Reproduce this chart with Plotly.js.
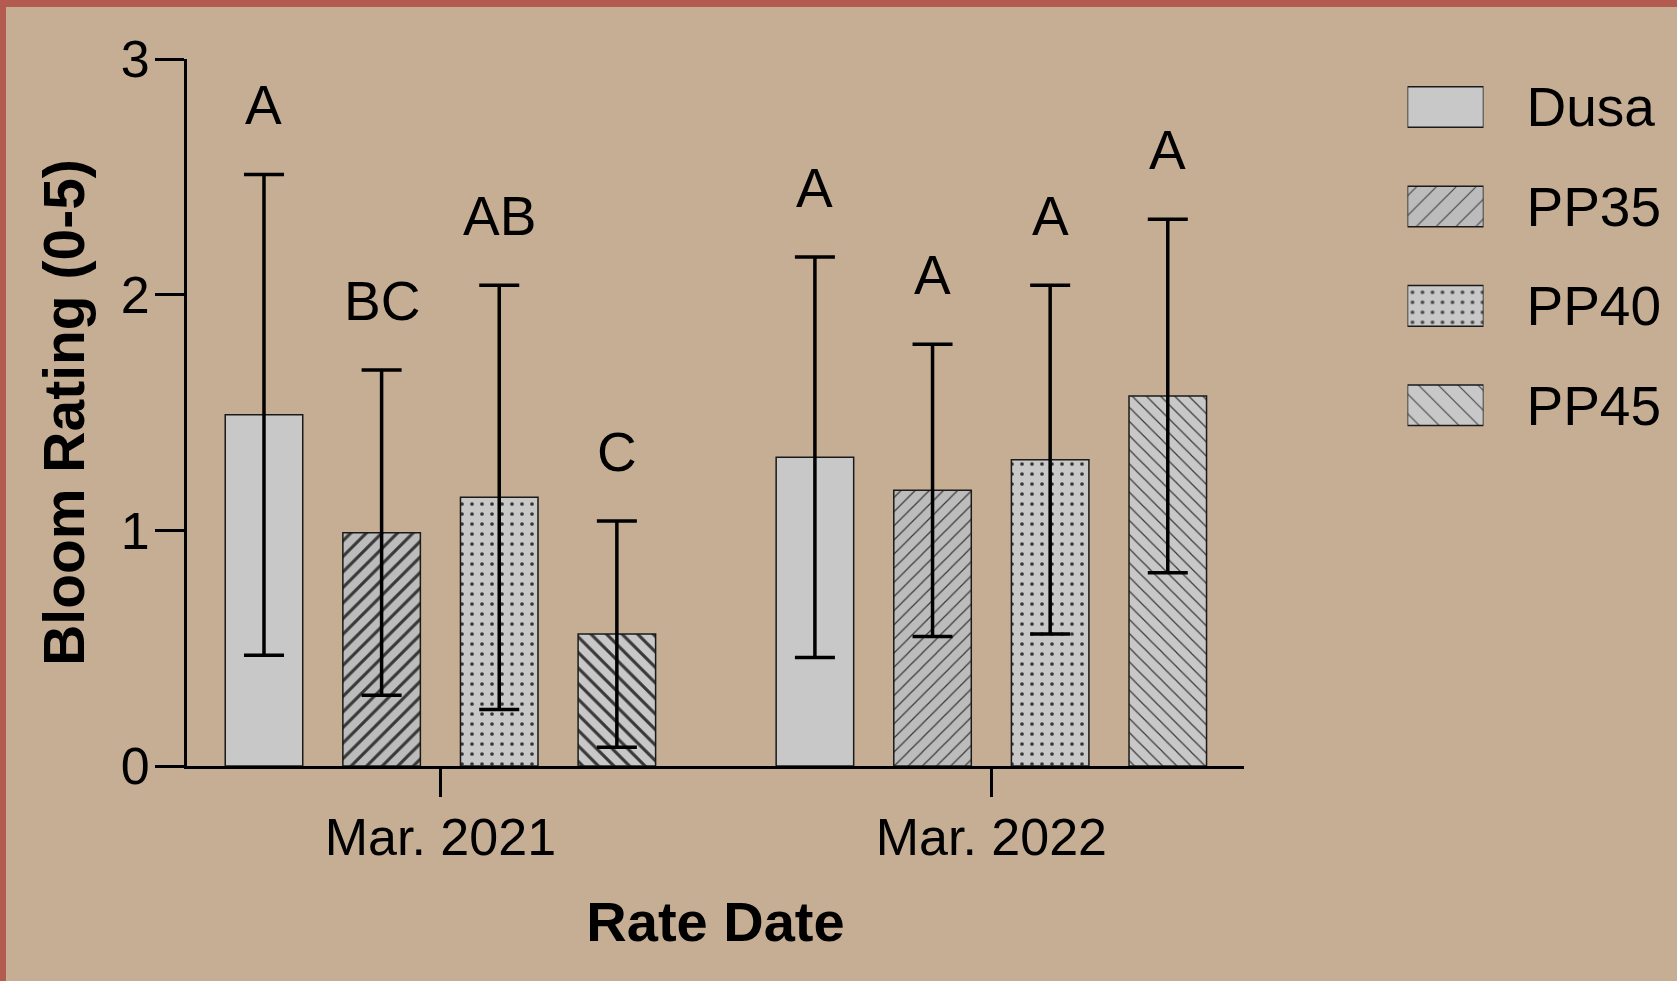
<!DOCTYPE html>
<html>
<head>
<meta charset="utf-8">
<script src="https://cdn.plot.ly/plotly-3.0.1.min.js"></script>
<style>
  html, body { margin: 0; padding: 0; background: #c6ae94; overflow: hidden; }
  #chart { width: 1677px; height: 981px; }
  .edge { position: absolute; left: 0; top: 0; background: #b35b4e; }
  #edge-top { width: 1677px; height: 7px; }
  #edge-left { width: 6px; height: 981px; }
</style>
</head>
<body>
<div id="chart"></div>
<div class="edge" id="edge-top"></div>
<div class="edge" id="edge-left"></div>
<script>
// Rating dates (x categories) and cultivars (series)
const dates = ['Mar. 2021', 'Mar. 2022'];
const series = ['Dusa', 'PP35', 'PP40', 'PP45'];

// Mean bloom rating and standard deviation per date
const dusaMean = [1.49, 1.31];
const dusaSD   = [1.02, 0.85];
const pp35Mean = [0.99, 1.17];
const pp35SD   = [0.69, 0.62];
const pp40Mean = [1.14, 1.30];
const pp40SD   = [0.90, 0.74];
const pp45Mean = [0.56, 1.57];
const pp45SD   = [0.48, 0.75];

// Mean separation letters per date
const dusaLetters = ['A', 'A'];
const pp35Letters = ['BC', 'A'];
const pp40Letters = ['AB', 'A'];
const pp45Letters = ['C', 'A'];

const means   = [dusaMean, pp35Mean, pp40Mean, pp45Mean];
const sds     = [dusaSD, pp35SD, pp40SD, pp45SD];
const letters = [dusaLetters, pp35Letters, pp40Letters, pp45Letters];

// Fill styles: one per cultivar, with per-date hatch weight
const FONT = 'Liberation Sans, Arial, Helvetica, sans-serif';
const styles = [
  { bg: '#c8c8c8', shape: ['', ''],     size: [8, 8],   solidity: [0.2, 0.2] },
  { bg: '#bcbcbc', shape: ['/', '/'],   size: [11, 10], solidity: [0.28, 0.12] },
  { bg: '#c8c8c8', shape: ['.', '.'],   size: [10, 10], solidity: [0.11, 0.11] },
  { bg: '#c8c8c8', shape: ['\\', '\\'], size: [11, 10], solidity: [0.28, 0.12] }
];
const legendPattern = { shape: ['', '/', '.', '\\'], size: [8, 14, 10, 14], solidity: [0.2, 0.08, 0.11, 0.08] };

const BARGAP = 0.146, BARGROUPGAP = 0.341;
const slot = (1 - BARGAP) / series.length;

const traces = series.map((name, s) => ({
  type: 'bar',
  name: name,
  x: dates,
  y: means[s],
  xaxis: 'x', yaxis: 'y',
  showlegend: false,
  marker: {
    color: styles[s].bg,
    line: { color: '#1a1a1a', width: 1.5 },
    pattern: {
      shape: styles[s].shape,
      size: styles[s].size,
      solidity: styles[s].solidity,
      fgcolor: '#383838',
      fgopacity: 1,
      fillmode: 'overlay'
    }
  },
  error_y: {
    type: 'data', array: sds[s], visible: true,
    color: '#000000', thickness: 3.5, width: 20
  },
  hoverinfo: 'skip'
}));

// Legend swatches drawn as a small horizontal bar panel
traces.push({
  type: 'bar',
  orientation: 'h',
  y: series,
  x: series.map(() => 1),
  width: 0.408,
  xaxis: 'x2', yaxis: 'y2',
  showlegend: false,
  marker: {
    color: styles.map(st => st.bg),
    line: { color: '#1a1a1a', width: 1.5 },
    pattern: {
      shape: legendPattern.shape,
      size: legendPattern.size,
      solidity: legendPattern.solidity,
      fgcolor: '#383838',
      fgopacity: 1,
      fillmode: 'overlay'
    }
  },
  hoverinfo: 'skip'
});

// Letter labels above each error bar
const annotations = [];
series.forEach((name, s) => {
  dates.forEach((d, g) => {
    annotations.push({
      x: g + (s - (series.length - 1) / 2) * slot,
      y: means[s][g] + sds[s][g],
      xref: 'x', yref: 'y',
      text: letters[s][g],
      showarrow: false,
      yanchor: 'bottom',
      yshift: 36,
      font: { family: FONT, size: 55, color: '#000000' }
    });
  });
});

const layout = {
  width: 1677, height: 981,
  paper_bgcolor: '#c6ae94',
  plot_bgcolor: 'rgba(0,0,0,0)',
  margin: { l: 187, r: 10, t: 50, b: 215 },
  barmode: 'group',
  bargap: BARGAP,
  bargroupgap: BARGROUPGAP,
  showlegend: false,
  font: { family: FONT, color: '#000000' },
  xaxis: {
    domain: [0, 0.71419],
    anchor: 'y',
    type: 'category',
    range: [-0.46, 1.4586],
    showline: true, linecolor: '#000000', linewidth: 3,
    ticks: 'outside', ticklen: 28, tickwidth: 3, tickcolor: '#000000',
    ticklabelstandoff: -4,
    showgrid: false, zeroline: false,
    tickfont: { family: FONT, size: 52 },
    automargin: false,
    title: { text: '<b>Rate Date</b>', font: { family: FONT, size: 56 }, standoff: 37 }
  },
  yaxis: {
    domain: [0, 0.98743],
    anchor: 'x',
    range: [0, 3],
    tickvals: [0, 1, 2, 3],
    showline: true, linecolor: '#000000', linewidth: 3,
    ticks: 'outside', ticklen: 29, tickwidth: 3, tickcolor: '#000000',
    ticklabelstandoff: -5,
    showgrid: false, zeroline: false,
    tickfont: { family: FONT, size: 52 },
    automargin: false,
    title: { text: '<b>Bloom Rating (0-5)</b>', font: { family: FONT, size: 57 }, standoff: 18 }
  },
  xaxis2: {
    domain: [(1407.5 - 187) / 1480, (1483.5 - 187) / 1480],
    anchor: 'y2',
    range: [0, 1],
    visible: false, fixedrange: true
  },
  yaxis2: {
    domain: [0.43429, 0.98987],
    anchor: 'x2',
    type: 'category',
    range: [3.5, -0.5],
    side: 'right',
    showline: false, showgrid: false, zeroline: false,
    ticks: 'outside', ticklen: 31, tickcolor: 'rgba(0,0,0,0)',
    tickfont: { family: FONT, size: 55 },
    automargin: false, fixedrange: true
  },
  annotations: annotations
};

Plotly.newPlot('chart', traces, layout, { displayModeBar: false, staticPlot: true });
</script>
</body>
</html>
